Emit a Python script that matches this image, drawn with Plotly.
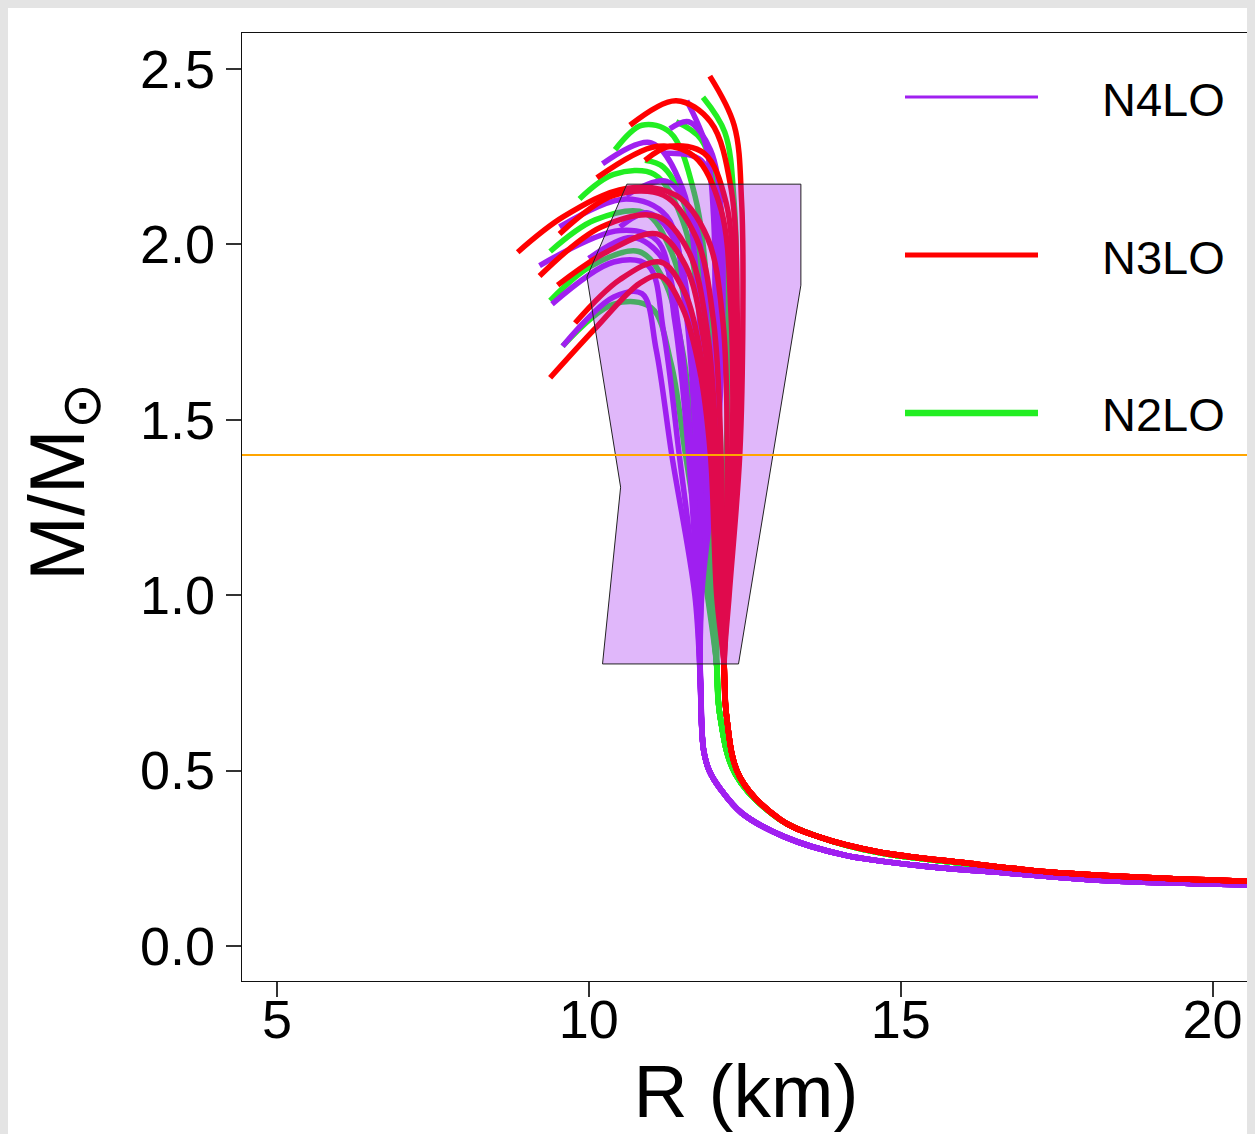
import plotly.graph_objects as go

# ---------------- data ----------------
# shared low-mass tails (R in km, M in solar masses)
TAIL_R_N4LO = [20.60, 18.08, 16.70, 15.34, 14.10, 13.14, 12.45, 12.12, 11.93, 11.84, 11.79]
TAIL_M_N4LO = [0.174, 0.188, 0.208, 0.228, 0.259, 0.311, 0.379, 0.445, 0.500, 0.559, 0.750]

TAIL_R_N3LO = [20.60, 19.10, 17.39, 16.03, 14.65, 13.69, 13.08, 12.42, 12.21, 12.17]
TAIL_M_N3LO = [0.185, 0.194, 0.211, 0.237, 0.268, 0.311, 0.359, 0.482, 0.653, 0.800]

TAIL_R_N2LO = [20.60, 19.10, 17.39, 16.03, 14.65, 13.69, 13.05, 12.35, 12.10, 12.05]
TAIL_M_N2LO = [0.182, 0.192, 0.209, 0.235, 0.266, 0.311, 0.362, 0.490, 0.660, 0.800]

# upper branches, N4LO
N4LO_R = [
    [11.70, 11.33, 11.08, 10.85, 10.40, 9.58],
    [11.72, 11.45, 11.20, 10.95, 10.40, 9.41],
    [11.74, 11.60, 11.38, 11.10, 10.50, 9.21],
    [11.76, 11.72, 11.55, 11.25, 10.60, 9.53],
    [11.78, 11.82, 11.75, 11.50, 11.00, 10.22],
    [11.80, 11.95, 12.02, 12.00, 11.88, 11.57],
    [11.79, 11.90, 11.88, 11.70, 11.25, 10.60],
    [11.77, 11.78, 11.62, 11.35, 10.95, 10.50],
    [11.75, 11.65, 11.45, 11.18, 10.70, 10.00],
    [11.80, 12.00, 12.10, 12.05, 11.80, 11.20],
    [11.81, 12.05, 12.15, 12.12, 11.95, 11.60, 11.30],
]
N4LO_M = [
    [1.00, 1.40, 1.70, 1.86, 1.85, 1.71],
    [1.00, 1.40, 1.75, 1.94, 1.95, 1.83],
    [1.00, 1.40, 1.78, 2.01, 2.04, 1.94],
    [1.00, 1.40, 1.82, 2.08, 2.13, 2.05],
    [1.00, 1.40, 1.85, 2.16, 2.29, 2.23],
    [1.00, 1.40, 1.80, 2.08, 2.28, 2.41],
    [1.00, 1.40, 1.82, 2.06, 2.18, 2.14],
    [1.00, 1.40, 1.80, 2.02, 2.09, 2.05],
    [1.00, 1.40, 1.75, 1.96, 2.02, 1.96],
    [1.00, 1.40, 1.82, 2.08, 2.24, 2.26],
    [1.00, 1.40, 1.82, 2.10, 2.27, 2.35, 2.33],
]

# upper branches, N3LO
N3LO_R = [
    [12.25, 12.42, 12.47, 12.45, 12.33, 11.94],
    [12.23, 12.36, 12.38, 12.28, 11.95, 11.40, 10.66],
    [12.20, 12.30, 12.28, 12.12, 11.70, 11.10, 10.13],
    [12.18, 12.22, 12.15, 11.90, 11.40, 10.60, 9.60, 8.86],
    [12.15, 12.12, 12.00, 11.72, 11.20, 10.40, 9.53],
    [12.12, 12.05, 11.90, 11.60, 11.10, 10.20, 9.21],
    [12.10, 12.02, 11.85, 11.55, 11.10, 10.30, 9.50],
    [12.08, 11.97, 11.80, 11.52, 11.15, 10.50, 9.78],
    [12.05, 11.95, 11.78, 11.50, 11.15, 10.82, 10.10, 9.38],
    [12.22, 12.33, 12.33, 12.20, 11.85, 11.30, 10.90],
]
N3LO_M = [
    [1.00, 1.40, 1.80, 2.12, 2.34, 2.48],
    [1.00, 1.40, 1.80, 2.16, 2.35, 2.41, 2.34],
    [1.00, 1.40, 1.80, 2.10, 2.25, 2.28, 2.19],
    [1.00, 1.40, 1.78, 2.02, 2.14, 2.16, 2.08, 1.978],
    [1.00, 1.40, 1.78, 2.02, 2.14, 2.14, 2.03],
    [1.00, 1.40, 1.75, 1.98, 2.08, 2.05, 1.91],
    [1.00, 1.40, 1.72, 1.94, 2.03, 1.98, 1.884],
    [1.00, 1.40, 1.68, 1.87, 1.95, 1.90, 1.776],
    [1.00, 1.40, 1.64, 1.82, 1.91, 1.89, 1.76, 1.62],
    [1.00, 1.40, 1.82, 2.12, 2.26, 2.28, 2.24],
]

# upper branches, N2LO
N2LO_R = [
    [12.10, 12.30, 12.37, 12.33, 12.18, 11.83],
    [12.00, 12.00, 11.92, 11.70, 11.30, 10.85, 10.42],
    [11.98, 11.90, 11.78, 11.50, 11.05, 10.40, 9.85],
    [11.95, 11.80, 11.62, 11.32, 10.90, 10.10, 9.38],
    [11.93, 11.70, 11.50, 11.20, 10.80, 10.05, 9.38],
    [11.90, 11.55, 11.32, 11.00, 10.40, 9.58],
    [11.98, 11.95, 11.85, 11.60, 11.20, 10.90],
    [12.05, 12.20, 12.22, 12.10, 11.80, 11.40],
]
N2LO_M = [
    [1.00, 1.40, 1.80, 2.12, 2.32, 2.42],
    [1.00, 1.40, 1.82, 2.14, 2.32, 2.34, 2.27],
    [1.00, 1.40, 1.80, 2.07, 2.20, 2.20, 2.13],
    [1.00, 1.40, 1.75, 1.98, 2.09, 2.07, 1.98],
    [1.00, 1.40, 1.70, 1.90, 1.98, 1.94, 1.84],
    [1.00, 1.40, 1.66, 1.82, 1.83, 1.71],
    [1.00, 1.40, 1.80, 2.08, 2.22, 2.24],
    [1.00, 1.40, 1.82, 2.12, 2.30, 2.35],
]

# observational constraint region
REGION_R = [10.61, 13.40, 13.40, 12.40, 10.22, 10.51, 9.97, 10.61]
REGION_M = [2.172, 2.172, 1.884, 0.804, 0.804, 1.308, 1.907, 2.172]

M_CANONICAL = 1.4

LABELS = ["N4LO", "N3LO", "N2LO"]
X_TICKS = [5, 10, 15, 20]
Y_TICKS = [0.0, 0.5, 1.0, 1.5, 2.0, 2.5]
X_TITLE = "R (km)"
Y_TITLE = "M/M<sub>⊙</sub>"

# ---------------- styles ----------------
COL = {"N4LO": "#A020F0", "N3LO": "#FF0000", "N2LO": "#22EE22"}
LEG_W = {"N4LO": 3, "N3LO": 5, "N2LO": 6.5}
FONT = "Liberation Sans, Arial, sans-serif"

families = {
    "N4LO": (TAIL_R_N4LO, TAIL_M_N4LO, N4LO_R, N4LO_M),
    "N3LO": (TAIL_R_N3LO, TAIL_M_N3LO, N3LO_R, N3LO_M),
    "N2LO": (TAIL_R_N2LO, TAIL_M_N2LO, N2LO_R, N2LO_M),
}

fig = go.Figure()
for name in ["N2LO", "N4LO", "N3LO"]:
    tr, tm, br, bm = families[name]
    for rr, mm in zip(br, bm):
        fig.add_trace(go.Scatter(
            x=tr + rr, y=tm + mm, mode="lines", name=name,
            line=dict(color=COL[name], width=5.5, shape="spline", smoothing=1.0),
            showlegend=False, hoverinfo="skip"))

fig.add_trace(go.Scatter(
    x=REGION_R, y=REGION_M, mode="lines", fill="toself",
    fillcolor="rgba(160,32,240,0.32)", line=dict(color="#222222", width=1),
    showlegend=False, hoverinfo="skip"))

# page offset of 8 px (body margin) -> figure occupies 8..1255 x 8..1134
OFF = 8
W, H = 1255 - OFF, 1134 - OFF
L, R, T, B = 242 - OFF, 1255 - 1250, 33 - OFF, 1134 - 981
pw, ph = W - L - R, H - T - B


def px_x(px):
    return (px - OFF - L) / pw


def px_y(py):
    return (H - B - (py - OFF)) / ph


shapes = [
    dict(type="line", xref="paper", yref="y", x0=0, x1=1, y0=M_CANONICAL, y1=M_CANONICAL,
         line=dict(color="#FFA500", width=2), layer="above"),
]
annotations = [
    dict(xref="paper", yref="paper", x=px_x(62), y=px_y(482), text=Y_TITLE, textangle=-90,
         showarrow=False, xanchor="center", yanchor="middle",
         font=dict(family=FONT, size=78, color="black")),
]
leg_y = [97, 255, 413]
for name, yy in zip(LABELS, leg_y):
    shapes.append(dict(type="line", xref="paper", yref="paper",
                       x0=px_x(905), x1=px_x(1038), y0=px_y(yy), y1=px_y(yy),
                       line=dict(color=COL[name], width=LEG_W[name])))
    annotations.append(dict(xref="paper", yref="paper", x=px_x(1100), y=px_y(yy + 2),
                            text=name, showarrow=False, xanchor="left", yanchor="middle",
                            font=dict(family=FONT, size=47, color="black")))

axis_common = dict(showgrid=False, zeroline=False, showline=True, mirror=True,
                   linecolor="#111111", linewidth=1.2, ticks="outside", ticklen=15,
                   tickwidth=1.5, tickcolor="#333333",
                   tickfont=dict(family=FONT, size=54, color="black"))

fig.update_layout(
    width=W, height=H,
    margin=dict(l=L, r=R, t=T, b=B, pad=0),
    paper_bgcolor="white", plot_bgcolor="white",
    showlegend=False,
    xaxis=dict(range=[4.44, 20.6], tickvals=X_TICKS, ticktext=[str(v) for v in X_TICKS],
               ticklabelstandoff=-24,
               title=dict(text=X_TITLE, font=dict(family=FONT, size=75, color="black"), standoff=16),
               **axis_common),
    yaxis=dict(range=[-0.1, 2.603], tickvals=Y_TICKS, ticktext=[f"{v:.1f}" for v in Y_TICKS],
               **axis_common),
    shapes=shapes, annotations=annotations,
)

fig.write_html("out.html", post_script="document.body.style.background='#e4e4e4';")
